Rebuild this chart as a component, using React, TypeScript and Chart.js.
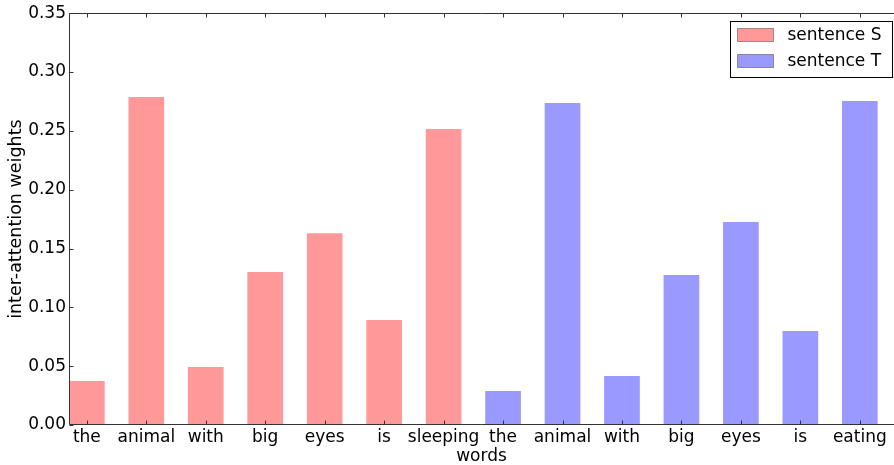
import React, { useEffect, useRef } from "react";
import { Chart, registerables } from "chart.js";

Chart.register(...registerables);

const words = ["the", "animal", "with", "big", "eyes", "is", "sleeping", "the", "animal", "with", "big", "eyes", "is", "eating"];
const seriesLabels = ["sentence S", "sentence T"];
const sentenceS = [0.0374, 0.2787, 0.0493, 0.130, 0.163, 0.0892, 0.2515];
const sentenceT = [0.0289, 0.2736, 0.0416, 0.1274, 0.1725, 0.0799, 0.2753];
const yTickValues = [0, 0.05, 0.1, 0.15, 0.2, 0.25, 0.3, 0.35];
const xAxisTitle = "words";
const yAxisTitle = "inter-attention weights";

const FONT = "'DejaVu Sans', 'Liberation Sans', sans-serif";
const RED = "rgb(255,153,153)";
const BLUE = "rgb(153,153,255)";
const BAR_OFFSET = 0.3;

const framePlugin = {
  id: "framePlugin",
  afterDraw(chart: any) {
    const { ctx, chartArea, scales } = chart;
    const { left, top, right, bottom } = chartArea;
    const x = scales.x;
    const y = scales.y;
    ctx.save();
    ctx.strokeStyle = "#333";
    ctx.lineWidth = 1;
    const L = Math.round(left) + 0.5;
    const T = Math.round(top) + 0.5;
    const B = Math.round(bottom) - 0.5;
    ctx.beginPath();
    ctx.moveTo(L, T);
    ctx.lineTo(right, T);
    ctx.moveTo(L, T);
    ctx.lineTo(L, B);
    ctx.lineTo(right, B);
    yTickValues.forEach((v) => {
      const py = Math.round(y.getPixelForValue(v)) + 0.5;
      ctx.moveTo(L, py);
      ctx.lineTo(L + 4, py);
    });
    words.forEach((_, i) => {
      const px = Math.round(x.getPixelForValue(i + BAR_OFFSET)) + 0.5;
      ctx.moveTo(px, B);
      ctx.lineTo(px, B - 4);
      ctx.moveTo(px, T);
      ctx.lineTo(px, T + 4);
    });
    ctx.stroke();

    // legend
    const boxRight = Math.round(right) - 1.5;
    const boxLeft = boxRight - 162;
    const boxTop = Math.round(top) + 8.5;
    const boxH = 56;
    ctx.fillStyle = "#fff";
    ctx.fillRect(boxLeft, boxTop, boxRight - boxLeft, boxH);
    ctx.strokeStyle = "#000";
    ctx.strokeRect(boxLeft, boxTop, boxRight - boxLeft, boxH);
    const colors = [RED, BLUE];
    ctx.font = `17px ${FONT}`;
    ctx.textBaseline = "middle";
    ctx.textAlign = "left";
    seriesLabels.forEach((label, i) => {
      const sy = boxTop + 7 + i * 26;
      ctx.fillStyle = colors[i];
      ctx.fillRect(boxLeft + 7, sy, 36, 13);
      ctx.strokeStyle = "rgba(0,0,0,0.35)";
      ctx.strokeRect(boxLeft + 7, sy, 36, 13);
      ctx.fillStyle = "#000";
      ctx.fillText(label, boxLeft + 57, sy + 7);
    });
    ctx.restore();
  },
};

export default function App() {
  const canvasRef = useRef<HTMLCanvasElement | null>(null);

  useEffect(() => {
    document.body.style.margin = "0";
    document.body.style.overflow = "hidden";
    const canvas = canvasRef.current;
    if (!canvas) return;
    Chart.defaults.font.family = FONT;
    Chart.defaults.color = "#000";

    const dataS = sentenceS.map((v, i) => ({ x: i + BAR_OFFSET, y: v }));
    const dataT = sentenceT.map((v, i) => ({ x: sentenceS.length + i + BAR_OFFSET, y: v }));

    const chart = new Chart(canvas, {
      type: "bar",
      data: {
        datasets: [
          { label: seriesLabels[0], data: dataS as any, backgroundColor: RED, borderWidth: 0 },
          { label: seriesLabels[1], data: dataT as any, backgroundColor: BLUE, borderWidth: 0 },
        ],
      },
      options: {
        responsive: false,
        animation: false,
        grouped: false,
        barPercentage: 0.6,
        categoryPercentage: 1,
        layout: { padding: { top: 13, right: 0, bottom: 0, left: 0 } },
        plugins: { legend: { display: false }, tooltip: { enabled: false } },
        scales: {
          x: {
            type: "linear",
            offset: false,
            min: 0,
            max: 13.875,
            grid: { display: false, drawTicks: false, offset: false },
            border: { display: false },
            afterBuildTicks: (scale: any) => {
              scale.ticks = words.map((_, i) => ({ value: i + BAR_OFFSET }));
            },
            afterFit: (scale: any) => {
              scale.height = 40;
            },
            ticks: {
              autoSkip: false,
              maxRotation: 0,
              minRotation: 0,
              padding: 2,
              font: { size: 17 },
              color: "#000",
              callback: (_v: any, idx: number) => words[idx],
            },
            title: {
              display: true,
              text: xAxisTitle,
              font: { size: 17 },
              color: "#000",
              padding: { top: 0, bottom: -2 },
            },
          },
          y: {
            min: 0,
            max: 0.35,
            grid: { display: false, drawTicks: false },
            border: { display: false },
            afterBuildTicks: (scale: any) => {
              scale.ticks = yTickValues.map((v) => ({ value: v }));
            },
            afterFit: (scale: any) => {
              scale.width = 69;
            },
            ticks: {
              padding: 3,
              font: { size: 17 },
              color: "#000",
              callback: (v: any) => Number(v).toFixed(2),
            },
            title: {
              display: true,
              text: yAxisTitle,
              font: { size: 17.5 },
              color: "#000",
              padding: { top: 6, bottom: 0 },
            },
          },
        },
      } as any,
      plugins: [framePlugin],
    });
    return () => chart.destroy();
  }, []);

  return (
    <div style={{ width: 894, height: 465, overflow: "hidden" }}>
      <canvas ref={canvasRef} width={894} height={465} style={{ display: "block" }} />
    </div>
  );
}
